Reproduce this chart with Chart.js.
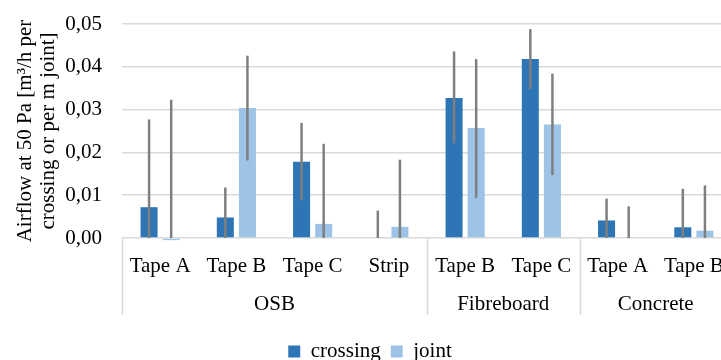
<!DOCTYPE html>
<html lang="en">
<head>
  <meta charset="UTF-8">
  <title>Airflow at 50 Pa</title>
  <script src="https://cdn.jsdelivr.net/npm/chart.js@4.4.1/dist/chart.umd.min.js"></script>
  <style>
    html, body {
      margin: 0;
      padding: 0;
      background: #fff;
      overflow: hidden;
    }
    #chart-container {
      width: 748px;
      height: 360px;
    }
  </style>
</head>
<body>

  <div id="chart-container">
    <canvas id="airflowChart"></canvas>
  </div>

  <script>
    // categories (inner level) and groups (outer level)
    const categories = ['Tape A', 'Tape B', 'Tape C', 'Strip', 'Tape B', 'Tape C', 'Tape A', 'Tape B'];
    const groupNames = ['OSB', 'Fibreboard', 'Concrete'];
    const groupSizes = [4, 2, 2];

    // values
    const crossing     = [0.0072, 0.0048, 0.0178, 0.0000, 0.0327, 0.0418, 0.0041, 0.0025];
    const crossingLow  = [0.0000, 0.0000, 0.0088, 0.0000, 0.0221, 0.0348, 0.0000, 0.0000];
    const crossingHigh = [0.0277, 0.0118, 0.0269, 0.0064, 0.0436, 0.0488, 0.0092, 0.0115];
    const joint        = [-0.0005, 0.0304, 0.0033, 0.0026, 0.0257, 0.0265, 0.0000, 0.0017];
    const jointLow     = [0.0000, 0.0181, 0.0000, 0.0000, 0.0094, 0.0147, 0.0000, 0.0000];
    const jointHigh    = [0.0323, 0.0426, 0.0220, 0.0183, 0.0418, 0.0384, 0.0074, 0.0123];

    const yTicks = [0, 0.01, 0.02, 0.03, 0.04, 0.05];

    const FONT = '"Liberation Serif", "Times New Roman", serif';
    const GRID = '#d9d9d9';

    // error bars, drawn over the bars
    const errorBars = {
      id: 'errorBars',
      afterDatasetsDraw(chart) {
        const ctx = chart.ctx;
        const y = chart.scales.y;
        ctx.save();
        ctx.strokeStyle = '#7f7f7f';
        ctx.lineWidth = 2.5;
        chart.data.datasets.forEach((ds, i) => {
          const meta = chart.getDatasetMeta(i);
          meta.data.forEach((bar, j) => {
            ctx.beginPath();
            ctx.moveTo(bar.x, y.getPixelForValue(ds.errLow[j]));
            ctx.lineTo(bar.x, y.getPixelForValue(ds.errHigh[j]));
            ctx.stroke();
          });
        });
        ctx.restore();
      }
    };

    // second level of the category axis
    const groupAxis = {
      id: 'groupAxis',
      afterDraw(chart) {
        const ctx = chart.ctx;
        const x = chart.scales.x;
        const area = chart.chartArea;
        const bottom = area.bottom + 77;
        const edges = [area.left];
        let k = 0;
        groupSizes.forEach(n => {
          k += n;
          if (k < categories.length) {
            edges.push((x.getPixelForValue(k - 1) + x.getPixelForValue(k)) / 2);
          } else {
            edges.push(area.right);
          }
        });
        ctx.save();
        ctx.strokeStyle = GRID;
        ctx.lineWidth = 1.5;
        edges.forEach(ex => {
          ctx.beginPath();
          ctx.moveTo(Math.round(ex) + 0.5, area.bottom);
          ctx.lineTo(Math.round(ex) + 0.5, bottom);
          ctx.stroke();
        });
        ctx.fillStyle = '#000';
        ctx.font = '21px ' + FONT;
        ctx.textAlign = 'center';
        ctx.textBaseline = 'alphabetic';
        groupNames.forEach((name, g) => {
          ctx.fillText(name, (edges[g] + edges[g + 1]) / 2, area.bottom + 72);
        });
        ctx.restore();
      }
    };

    const ctx = document.getElementById('airflowChart').getContext('2d');

    new Chart(ctx, {
      type: 'bar',
      data: {
        labels: categories,
        datasets: [
          {
            label: 'crossing',
            data: crossing,
            errLow: crossingLow,
            errHigh: crossingHigh,
            backgroundColor: '#2e75b6',
            borderWidth: 0,
            clip: false
          },
          {
            label: 'joint',
            data: joint,
            errLow: jointLow,
            errHigh: jointHigh,
            backgroundColor: '#9dc3e6',
            borderWidth: 0,
            clip: false
          }
        ]
      },
      options: {
        responsive: true,
        maintainAspectRatio: false,
        animation: false,
        categoryPercentage: 0.58,
        barPercentage: 0.77,
        layout: {
          padding: { top: 0, right: 16, left: 8, bottom: -12 }
        },
        plugins: {
          legend: {
            position: 'bottom',
            labels: {
              boxWidth: 12,
              boxHeight: 12,
              padding: 10,
              color: '#000',
              font: { family: FONT, size: 21 }
            }
          },
          tooltip: { enabled: false }
        },
        scales: {
          x: {
            grid: { display: false },
            border: { display: false },
            ticks: {
              color: '#000',
              padding: 8,
              maxRotation: 0,
              autoSkip: false,
              font: { family: FONT, size: 21 }
            },
            afterFit(scale) {
              scale.height = 93;
            }
          },
          y: {
            min: 0,
            max: 0.05,
            afterBuildTicks(scale) {
              scale.ticks = yTicks.map(v => ({ value: v }));
            },
            afterFit(scale) {
              scale.width = 114;
              scale.paddingTop = 24;
              scale.paddingBottom = 0;
            },
            grid: { color: GRID, lineWidth: 1.5, drawTicks: false },
            border: { display: false },
            ticks: {
              color: '#000',
              padding: 20,
              font: { family: FONT, size: 21 },
              callback: v => v.toFixed(2).replace('.', ',')
            },
            title: {
              display: true,
              text: ['Airflow at 50 Pa [m\u00b3/h per', 'crossing or per m joint]'],
              color: '#000',
              padding: { top: 6, bottom: 0 },
              font: { family: FONT, size: 21, lineHeight: 1.1 }
            }
          }
        }
      },
      plugins: [errorBars, groupAxis]
    });
  </script>

</body>
</html>
